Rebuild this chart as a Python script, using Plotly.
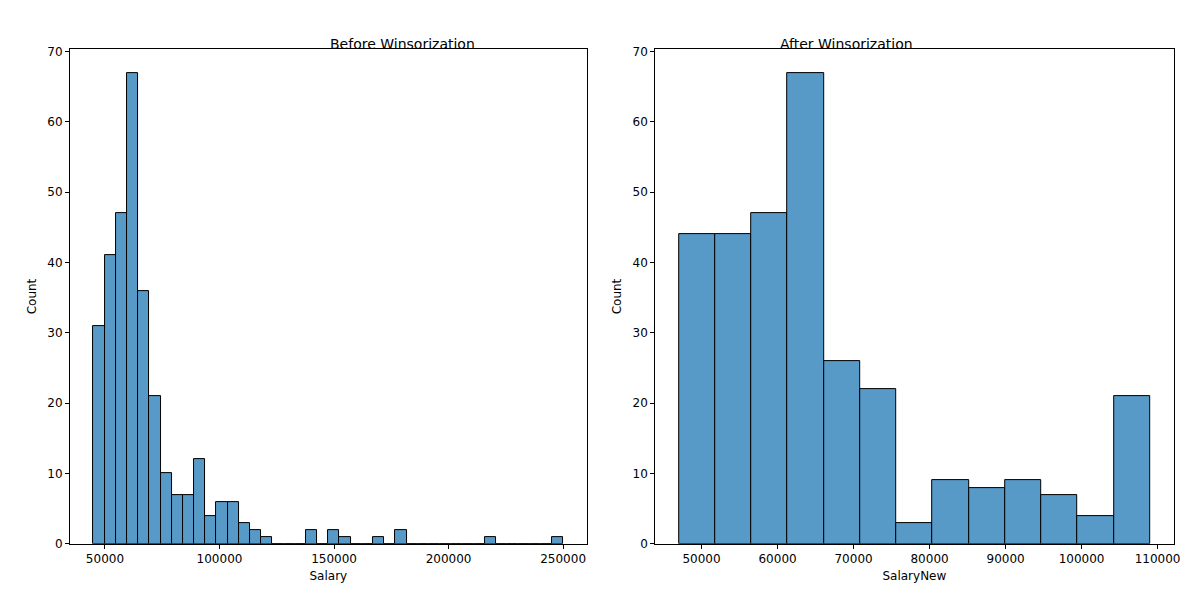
import plotly.graph_objects as go
import numpy as np

# Antes de winsorizar: 42 bins entre 45000 y 250000
salary_min, salary_max = 45000, 250000
salary_counts = [31, 41, 47, 67, 36, 21, 10, 7, 7, 12, 4, 6, 6, 3, 2, 1,
                 0, 0, 0, 2, 0, 2, 1, 0, 0, 1, 0, 2, 0, 0, 0, 0, 0, 0, 0, 1,
                 0, 0, 0, 0, 0, 1]

# Despues de winsorizar: 13 bins entre 47000 y 109000
new_min, new_max = 47000, 109000
new_counts = [44, 44, 47, 67, 26, 22, 3, 9, 8, 9, 7, 4, 21]

BAR_COLOR = "#5799c7"


def bin_centers(lo, hi, n):
    edges = np.linspace(lo, hi, n + 1)
    return (edges[:-1] + edges[1:]) / 2, (hi - lo) / n


fig = go.Figure()

x1, w1 = bin_centers(salary_min, salary_max, len(salary_counts))
fig.add_trace(go.Bar(x=x1, y=salary_counts, width=w1, xaxis="x", yaxis="y",
                     marker=dict(color=BAR_COLOR, line=dict(color="black", width=1)),
                     showlegend=False))

x2, w2 = bin_centers(new_min, new_max, len(new_counts))
fig.add_trace(go.Bar(x=x2, y=new_counts, width=w2, xaxis="x2", yaxis="y2",
                     marker=dict(color=BAR_COLOR, line=dict(color="black", width=1)),
                     showlegend=False))

axis_style = dict(showgrid=False, zeroline=False, showline=True, linecolor="black",
                  linewidth=1, mirror=True, ticks="outside", ticklen=4,
                  tickcolor="black", tickfont=dict(size=12, color="black"))

pad1 = (salary_max - salary_min) * 0.05
pad2 = (new_max - new_min) * 0.05
ytop = max(max(salary_counts), max(new_counts)) * 1.05

fig.update_layout(
    width=1200, height=600,
    margin=dict(l=0, r=0, t=0, b=0),
    paper_bgcolor="white", plot_bgcolor="white",
    font=dict(family="DejaVu Sans", color="black"),
    bargap=0,
    xaxis=dict(domain=[0.052, 0.485], range=[salary_min - pad1, salary_max + pad1],
               tickvals=[50000, 100000, 150000, 200000, 250000], tickformat="d",
               title=dict(text="Salary", font=dict(size=12), standoff=6), anchor="y",
               **axis_style),
    yaxis=dict(domain=[0.097, 0.937], range=[0, ytop], dtick=10,
               title=dict(text="Count", font=dict(size=12), standoff=8), anchor="x",
               **axis_style),
    xaxis2=dict(domain=[0.5425, 0.977], range=[new_min - pad2, new_max + pad2],
                tickvals=list(range(50000, 110001, 10000)), tickformat="d",
                title=dict(text="SalaryNew", font=dict(size=12), standoff=6), anchor="y2",
                **axis_style),
    yaxis2=dict(domain=[0.097, 0.937], range=[0, ytop], dtick=10,
                title=dict(text="Count", font=dict(size=12), standoff=8), anchor="x2",
                **axis_style),
    annotations=[
        dict(text="Before Winsorization", x=0.2685, y=0.963, xref="paper", yref="paper",
             showarrow=False, font=dict(size=14)),
        dict(text="After Winsorization", x=0.76, y=0.963, xref="paper", yref="paper",
             showarrow=False, font=dict(size=14)),
    ],
)

fig.write_html("out.html")
